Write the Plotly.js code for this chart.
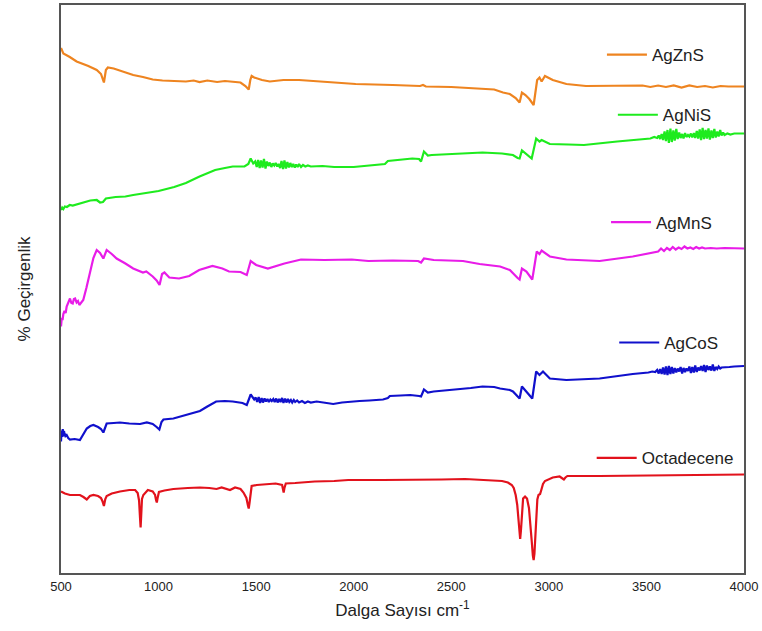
<!DOCTYPE html>
<html>
<head>
<meta charset="utf-8">
<script src="https://cdn.plot.ly/plotly-3.0.1.min.js"></script>
<style>
  html, body { margin: 0; padding: 0; background: #fff; }
  #chart { width: 762px; height: 631px; }
</style>
</head>
<body>
<div id="chart"></div>
<script>
// FTIR spectra, stacked with vertical offsets: [wavenumber (cm-1), %T (offset)]
const agZnS = [[500,105.0],[512,103.9],[545,103.2],[580,102.3],[640,101.4],[683,100.6],[705,99.8],[712,98.8],[720,98.1],[730,100.6],[740,101.1],[770,100.9],[820,100.3],[870,99.6],[920,99.2],[970,98.7],[1020,98.5],[1075,98.4],[1140,98.3],[1180,98.5],[1210,98.2],[1250,98.5],[1300,98.2],[1340,98.4],[1380,98.3],[1420,98.1],[1445,97.4],[1462,96.7],[1470,98.6],[1477,99.4],[1490,99.1],[1530,98.6],[1570,98.3],[1640,98.6],[1720,98.6],[1800,98.4],[1900,98.1],[2010,97.8],[2200,97.6],[2340,97.4],[2355,97.6],[2370,97.3],[2500,97.2],[2660,96.9],[2720,96.7],[2765,96.1],[2800,95.8],[2830,95.0],[2850,94.1],[2862,96.1],[2880,95.6],[2900,94.8],[2922,93.6],[2940,98.6],[2952,99.1],[2963,98.3],[2980,99.4],[3020,98.6],[3090,97.8],[3190,97.4],[3430,97.4],[3480,97.5],[3520,97.2],[3560,97.5],[3600,97.2],[3640,97.5],[3680,97.1],[3720,97.5],[3760,97.2],[3800,97.4],[3840,97.1],[3880,97.4],[3920,97.3],[3960,97.3],[4000,97.3]];

const agNiS = [[500,72.6],[506,73.1],[512,72.8],[520,73.3],[530,73.2],[545,73.6],[560,73.5],[600,74.0],[650,74.5],[683,74.6],[700,74.1],[715,74.2],[730,74.9],[780,75.2],[830,75.3],[870,75.6],[950,76.1],[1000,76.4],[1080,77.2],[1140,78.0],[1210,79.3],[1290,80.6],[1340,81.0],[1380,81.3],[1440,81.3],[1460,81.8],[1472,82.9],[1485,81.9],[1495,82.3],[1503,81.2],[1510,82.6],[1518,81.0],[1525,82.5],[1533,81.1],[1540,82.8],[1548,80.9],[1555,82.3],[1563,81.4],[1570,82.1],[1578,81.2],[1585,81.9],[1593,81.5],[1600,82.0],[1608,81.3],[1615,81.8],[1623,81.0],[1630,82.4],[1638,80.8],[1645,82.5],[1653,80.9],[1660,82.2],[1668,81.1],[1675,82.0],[1683,81.2],[1690,81.8],[1698,81.1],[1705,81.7],[1713,81.2],[1720,81.8],[1730,81.2],[1740,81.6],[1752,81.3],[1765,81.5],[1780,81.3],[1840,81.4],[1900,81.2],[2000,81.2],[2100,81.6],[2160,81.8],[2175,82.4],[2200,82.5],[2250,82.6],[2300,82.9],[2335,82.8],[2345,82.3],[2360,84.3],[2380,83.5],[2400,83.6],[2500,83.8],[2660,84.1],[2760,83.9],[2816,83.6],[2840,83.0],[2850,82.9],[2862,84.5],[2885,83.8],[2912,82.9],[2935,86.9],[2952,86.3],[2963,86.6],[3005,85.8],[3100,85.7],[3180,85.6],[3350,86.3],[3450,86.7],[3520,86.9],[3540,87.2],[3555,87.0],[3563,87.5],[3570,86.8],[3578,87.8],[3585,86.6],[3593,88.3],[3600,86.4],[3608,88.6],[3615,86.0],[3623,88.9],[3630,86.2],[3638,88.5],[3645,86.5],[3653,88.8],[3660,86.8],[3668,88.1],[3675,87.0],[3683,87.8],[3690,86.9],[3698,88.0],[3705,87.2],[3713,87.6],[3720,87.3],[3728,87.9],[3735,87.1],[3743,88.0],[3750,87.0],[3758,88.4],[3765,86.9],[3773,88.7],[3780,86.6],[3788,89.0],[3795,86.8],[3803,88.6],[3810,86.9],[3818,88.9],[3825,86.7],[3833,88.5],[3840,87.0],[3848,88.8],[3855,87.1],[3863,88.3],[3870,87.3],[3878,88.6],[3885,87.5],[3893,88.1],[3900,87.6],[3915,87.9],[3930,87.7],[3950,87.9],[3975,87.9],[4000,87.9]];

const agMnS = [[500,49.3],[504,51.0],[508,50.6],[512,51.8],[518,52.4],[524,52.0],[529,53.3],[537,54.2],[546,54.9],[553,54.0],[560,53.9],[566,54.8],[572,54.9],[580,54.1],[587,54.4],[594,53.6],[604,54.2],[614,54.6],[630,57.0],[649,59.9],[666,63.0],[683,64.6],[700,64.0],[717,62.9],[734,64.6],[760,63.8],[785,62.9],[830,61.9],[870,60.9],[920,60.1],[937,60.3],[970,59.3],[990,58.5],[1005,57.6],[1018,59.8],[1030,60.1],[1055,59.1],[1105,58.9],[1157,59.4],[1208,60.6],[1276,61.4],[1327,60.9],[1361,60.3],[1420,60.2],[1452,59.6],[1472,62.4],[1500,61.6],[1560,60.9],[1645,61.9],[1730,62.7],[1850,62.6],[1990,62.7],[2075,62.4],[2200,62.5],[2330,62.4],[2345,62.1],[2360,62.9],[2410,62.6],[2560,62.4],[2645,61.8],[2750,61.3],[2800,60.6],[2816,59.9],[2840,59.0],[2850,58.7],[2862,60.9],[2885,60.3],[2915,58.7],[2938,64.3],[2952,63.8],[2963,64.5],[3005,63.3],[3090,62.7],[3260,62.4],[3430,63.3],[3520,64.0],[3560,64.3],[3575,64.9],[3590,64.4],[3605,65.0],[3620,64.6],[3635,65.2],[3650,64.7],[3665,65.1],[3680,64.8],[3695,65.3],[3710,64.9],[3725,65.1],[3740,64.8],[3755,65.2],[3770,64.9],[3785,65.1],[3800,64.9],[3830,65.0],[3860,64.9],[3900,65.0],[3950,64.9],[4000,64.9]];

const agCoS = [[500,26.3],[503,28.5],[506,27.2],[509,28.8],[512,27.3],[515,28.4],[518,28.0],[523,27.4],[529,27.6],[537,27.0],[546,26.7],[570,26.8],[597,26.6],[615,27.8],[632,28.9],[650,29.4],[666,29.6],[690,29.2],[705,28.8],[717,28.1],[734,29.9],[770,30.0],[802,30.1],[850,29.9],[905,29.8],[940,30.1],[970,29.8],[990,29.2],[1004,28.7],[1015,30.2],[1025,30.7],[1076,30.9],[1145,31.6],[1212,32.4],[1250,33.3],[1295,34.3],[1340,34.4],[1380,34.3],[1430,34.0],[1452,33.6],[1472,35.7],[1490,34.7],[1498,35.1],[1505,34.2],[1513,35.2],[1520,34.0],[1528,35.0],[1535,34.1],[1543,34.9],[1550,34.3],[1558,34.8],[1565,34.2],[1573,34.7],[1580,34.4],[1588,34.8],[1595,34.2],[1603,34.9],[1610,34.1],[1618,34.8],[1625,34.2],[1633,35.0],[1640,34.0],[1648,34.9],[1655,34.1],[1663,34.8],[1670,34.2],[1678,34.6],[1685,34.1],[1693,34.6],[1700,34.2],[1710,34.5],[1720,34.1],[1735,34.4],[1750,34.0],[1765,34.3],[1780,34.1],[1810,34.3],[1850,34.0],[1895,33.8],[1940,34.1],[1980,34.3],[2030,34.4],[2080,34.5],[2150,34.7],[2175,35.0],[2185,35.4],[2240,35.5],[2290,35.6],[2335,35.4],[2345,35.3],[2360,36.7],[2380,36.1],[2410,36.3],[2500,36.6],[2600,37.0],[2660,37.3],[2720,37.2],[2750,36.9],[2800,36.6],[2816,36.3],[2840,35.3],[2850,34.9],[2862,37.3],[2885,36.3],[2915,34.9],[2935,40.3],[2952,39.6],[2970,40.3],[3005,38.9],[3090,38.6],[3260,38.9],[3430,39.8],[3480,39.9],[3510,40.1],[3530,40.3],[3545,40.2],[3555,40.6],[3563,39.9],[3570,40.8],[3578,39.8],[3585,41.1],[3593,39.7],[3600,41.3],[3608,39.6],[3615,41.4],[3623,39.8],[3630,41.2],[3638,39.9],[3645,41.0],[3653,40.1],[3660,40.9],[3668,40.3],[3675,41.2],[3683,39.9],[3690,41.0],[3698,40.2],[3705,40.9],[3713,40.4],[3720,41.3],[3728,40.0],[3735,41.2],[3743,40.1],[3750,41.5],[3758,40.2],[3765,41.1],[3773,40.5],[3780,41.4],[3788,40.4],[3795,41.6],[3803,40.2],[3810,41.5],[3818,40.6],[3825,41.3],[3833,40.5],[3840,41.7],[3848,40.4],[3855,41.2],[3863,40.8],[3870,41.3],[3878,40.9],[3885,41.1],[3900,41.1],[3925,41.2],[3950,41.3],[3975,41.4],[4000,41.4]];

const octadecene = [[500,16.3],[520,15.9],[546,15.6],[597,15.6],[615,15.2],[632,14.7],[648,15.4],[666,15.6],[690,15.4],[705,15.0],[712,14.4],[720,13.4],[727,14.8],[734,15.4],[760,15.9],[802,16.3],[850,16.6],[880,16.6],[893,16.0],[900,14.5],[905,11.0],[908,9.1],[911,11.5],[915,14.8],[922,15.6],[945,16.6],[970,16.3],[982,15.6],[987,14.6],[991,14.1],[995,15.0],[1002,16.2],[1030,16.5],[1076,16.8],[1150,17.0],[1212,17.1],[1260,17.0],[1297,16.8],[1323,17.1],[1345,16.9],[1366,16.6],[1392,17.1],[1420,16.8],[1435,16.1],[1450,15.0],[1458,13.5],[1462,12.9],[1466,14.0],[1470,15.8],[1477,17.4],[1503,17.6],[1560,17.8],[1600,17.9],[1633,17.6],[1638,16.8],[1641,16.1],[1645,17.0],[1652,17.9],[1700,18.0],[1800,18.3],[1900,18.4],[1972,18.6],[2150,18.6],[2315,18.6],[2450,18.7],[2570,18.8],[2690,18.5],[2760,18.4],[2790,18.1],[2810,17.6],[2820,17.0],[2830,15.6],[2838,13.6],[2845,10.6],[2850,7.8],[2853,6.8],[2857,8.5],[2862,12.5],[2868,14.9],[2878,15.3],[2888,14.9],[2898,13.0],[2906,10.0],[2912,6.5],[2918,3.5],[2922,2.6],[2926,3.8],[2931,8.0],[2936,12.0],[2941,14.7],[2947,15.6],[2955,15.8],[2962,16.7],[2970,17.8],[2980,18.4],[3000,18.8],[3020,19.1],[3055,19.3],[3070,19.0],[3077,18.7],[3085,19.1],[3095,19.4],[3260,19.4],[3500,19.5],[3750,19.6],[4000,19.7]];

const seriesNames = ['AgZnS', 'AgNiS', 'AgMnS', 'AgCoS', 'Octadecene'];
const seriesData = [agZnS, agNiS, agMnS, agCoS, octadecene];
const seriesColors = ['#EE8420', '#1EEB1E', '#E81CE8', '#1010CC', '#E2121C'];
const xTicks = [500, 1000, 1500, 2000, 2500, 3000, 3500, 4000];

// each spectrum gets its own legend entry placed beside its curve
const legendIds = ['legend', 'legend2', 'legend3', 'legend4', 'legend5'];
const legendPos = [[0.792, 0.912], [0.808, 0.806], [0.798, 0.617], [0.810, 0.405], [0.777, 0.202]];

const FONT = 'Liberation Sans, Arial, sans-serif';

const traces = seriesData.map((d, i) => ({
  type: 'scatter',
  mode: 'lines',
  name: seriesNames[i],
  x: d.map(p => p[0]),
  y: d.map(p => p[1]),
  line: { color: seriesColors[i], width: 2.2 },
  legend: legendIds[i],
  hoverinfo: 'x+y+name'
}));

const layout = {
  width: 762,
  height: 631,
  margin: { l: 61, r: 18, t: 5, b: 58 },
  paper_bgcolor: '#fff',
  plot_bgcolor: '#fff',
  font: { family: FONT, color: '#222' },
  showlegend: true,
  xaxis: {
    range: [500, 4000],
    tickvals: xTicks,
    ticktext: xTicks.map(String),
    ticks: '',
    showgrid: false,
    zeroline: false,
    showline: true,
    mirror: true,
    linecolor: '#555',
    linewidth: 2,
    tickfont: { size: 13, color: '#222', family: FONT },
    title: { text: 'Dalga Sayısı cm<sup>-1</sup>', font: { size: 17, color: '#222', family: FONT }, standoff: 12 }
  },
  yaxis: {
    range: [0, 113.6],
    showticklabels: false,
    ticks: '',
    showgrid: false,
    zeroline: false,
    showline: true,
    mirror: true,
    linecolor: '#555',
    linewidth: 2,
    title: { text: '% Geçirgenlik', font: { size: 17, color: '#222', family: FONT }, standoff: 24 }
  }
};

legendIds.forEach((id, i) => {
  layout[id] = {
    x: legendPos[i][0],
    y: legendPos[i][1],
    xanchor: 'left',
    yanchor: 'middle',
    bgcolor: 'rgba(0,0,0,0)',
    borderwidth: 0,
    itemwidth: 40,
    font: { size: 17, color: '#222', family: FONT }
  };
});

Plotly.newPlot('chart', traces, layout, { displayModeBar: false, staticPlot: true });
</script>
</body>
</html>
